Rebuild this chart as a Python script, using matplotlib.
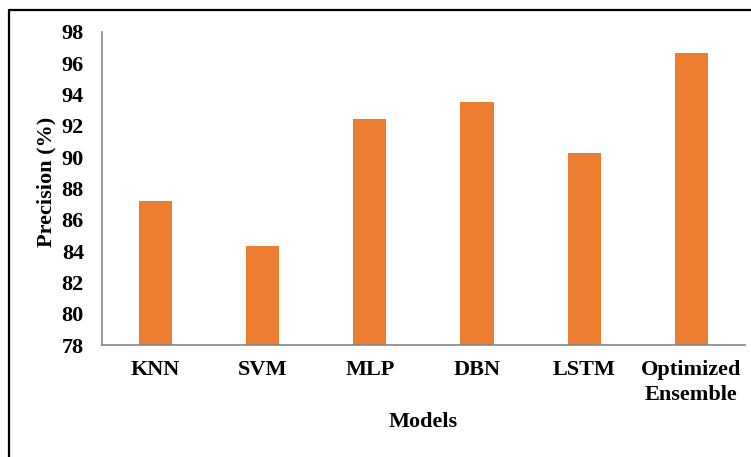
import matplotlib.pyplot as plt
from matplotlib.lines import Line2D

modelos = ['KNN', 'SVM', 'MLP', 'DBN', 'LSTM', 'Optimized\nEnsemble']
precisao = [87.2, 84.3, 92.45, 93.5, 90.25, 96.65]
yticks = [78, 80, 82, 84, 86, 88, 90, 92, 94, 96, 98]

plt.rcParams['font.family'] = 'Liberation Serif'
plt.rcParams['font.weight'] = 'bold'

fig = plt.figure(figsize=(7.51, 4.57), dpi=100)
ax = fig.add_axes([0.1358, 0.245, 0.856, 0.685])

x = list(range(len(modelos)))
ax.bar(x, precisao, width=0.31, color='#ED7D31', bottom=0)

ax.set_ylim(78, 98)
ax.set_xlim(-0.5, len(modelos) - 0.5)
ax.set_yticks(yticks)
ax.set_xticks(x)
ax.set_xticklabels(modelos, fontsize=16, fontweight='bold', linespacing=1.3)
ax.tick_params(axis='y', length=0, pad=13, labelsize=16)
ax.tick_params(axis='x', length=0, pad=11)
for lbl in ax.get_yticklabels():
    lbl.set_fontweight('bold')

ax.spines['top'].set_visible(False)
ax.spines['right'].set_visible(False)
ax.spines['left'].set_color('#868686')
ax.spines['bottom'].set_color('#868686')
ax.spines['left'].set_linewidth(1.2)
ax.spines['bottom'].set_linewidth(1.2)

ax.set_xlabel('Models', fontsize=16, fontweight='bold')
ax.set_ylabel('Precision (%)', fontsize=16, fontweight='bold')
ax.xaxis.set_label_coords(0.5, -0.214)
ax.yaxis.set_label_coords(-0.0715, 0.52)

# moldura preta (só topo e esquerda aparecem)
W, H = 751, 457
fig.add_artist(Line2D([9 / W, 9 / W, 1.0], [0.0, 1 - 10 / H, 1 - 10 / H],
                      transform=fig.transFigure, color='black', linewidth=1.6))

plt.savefig('out.png', dpi=100)
